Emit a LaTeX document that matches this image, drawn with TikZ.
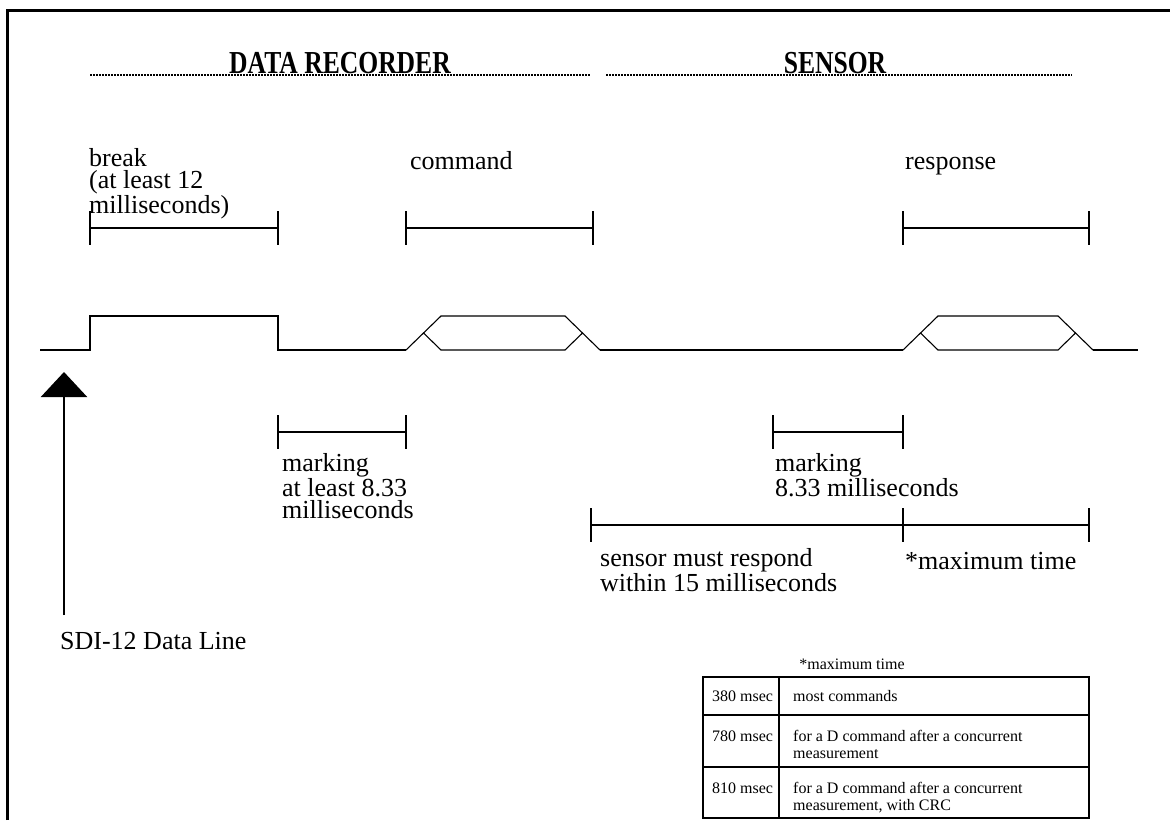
\documentclass[tikz,border=0pt]{standalone}
\usepackage{fontspec}
\setmainfont{Liberation Serif}
\newfontfamily\headfont[FakeStretch=0.8]{Liberation Serif}
\usetikzlibrary{arrows.meta,positioning}

\tikzset{
  wave/.style={line width=2.4pt},
  hexline/.style={line width=1.1pt},
  span/.style={line width=2.4pt},
  txt/.style={anchor=base west,align=left,inner sep=0pt,font=\fontsize{26}{22}\selectfont},
  small/.style={anchor=base west,align=left,inner sep=0pt,font=\fontsize{16}{17}\selectfont},
  head/.style={anchor=base,inner sep=0pt,font=\headfont\bfseries\fontsize{32}{32}\selectfont},
  headline/.style={line width=2pt,dash pattern=on 1.5pt off 1.5pt},
}

% span bar with end ticks: x1, x2, y
\newcommand\timespan[3]{%
  \draw[span] (#1,#3) -- (#2,#3);
  \draw[span] (#1,#3-17) -- (#1,#3+17);
  \draw[span] (#2,#3-17) -- (#2,#3+17);
}
% data frame between x1 and x2
\newcommand\hexbox[2]{%
  \draw[hexline] (#1,\low) -- (#1+\dx,\high) -- (#2-\dx,\high) -- (#2,\low);
  \draw[hexline] (#1+0.5*\dx,\mid) -- (#1+\dx,\low) -- (#2-\dx,\low) -- (#2-0.5*\dx,\mid);
}

\begin{document}
\begin{tikzpicture}[x=1pt,y=-1pt]
        \def\low{350}
        \def\high{316}
        \def\mid{333}
        \def\dx{35}
        \useasboundingbox (0,0) rectangle (1170,820);
        % frame
        \draw[line width=3pt] (7,820) -- (7,10) -- (1170,10);
        % headings
        \draw[headline] (90,75) -- (590,75);
        \draw[headline] (606,75) -- (1072,75);
        \node[head] (hdrec) at (340,73) {DATA RECORDER};
        \node[head] (hdsens) at (835,73) {SENSOR};
        % upper labels (base = last line)
        \node[txt] (lbreak) at (89,213) {break\\(at least 12\\milliseconds)};
        \node[txt] (lcmd) at (410,169) {command};
        \node[txt] (lresp) at (905,169) {response};
        \timespan{90}{278}{228}
        \timespan{406}{593}{228}
        \timespan{903}{1089}{228}
        % signal
        \draw[wave] (40,\low) -- (90,\low) -- (90,\high) -- (278,\high) -- (278,\low) -- (406,\low);
        \hexbox{406}{600}
        \draw[wave] (600,\low) -- (903,\low);
        \hexbox{903}{1093}
        \draw[wave] (1093,\low) -- (1138,\low);
        % lower spans
        \timespan{278}{406}{432}
        \timespan{773}{903}{432}
        \timespan{591}{903}{525}
        \timespan{903}{1089}{525}
        \node[txt] (lmark1) at (282,518) {marking\\at least 8.33\\milliseconds};
        \node[txt] (lmark2) at (775,496) {marking\\8.33 milliseconds};
        \node[txt] (lrespond) at (600,591) {sensor must respond\\within 15 milliseconds};
        \node[txt] (lmax) at (905,569) {*maximum time};
        % data line arrow
        \coordinate (tip) at (64,372);
        \draw[line width=2.4pt,-{Triangle[width=46pt,length=25pt]}] (64,615) -- (tip);
        \node[txt] (ldata) at (60,649) {SDI-12 Data Line};
        % table
        \node[small,anchor=base] (thead) at (852,669) {*maximum time};
        \draw[line width=1.6pt] (703,677) rectangle (1089,818);
        \draw[line width=1.6pt] (703,715) -- (1089,715);
        \draw[line width=1.6pt] (703,767) -- (1089,767);
        \draw[line width=1.6pt] (779,677) -- (779,818);
        \node[small] (t1a) at (712,701) {380 msec};
        \node[small] (t1b) at (793,701) {most commands};
        \node[small] (t2a) at (712,741) {780 msec};
        \node[small] (t2b) at (793,758) {for a D command after a concurrent\\measurement};
        \node[small] (t3a) at (712,793) {810 msec};
        \node[small] (t3b) at (793,810) {for a D command after a concurrent\\measurement, with CRC};
\end{tikzpicture}
\end{document}
